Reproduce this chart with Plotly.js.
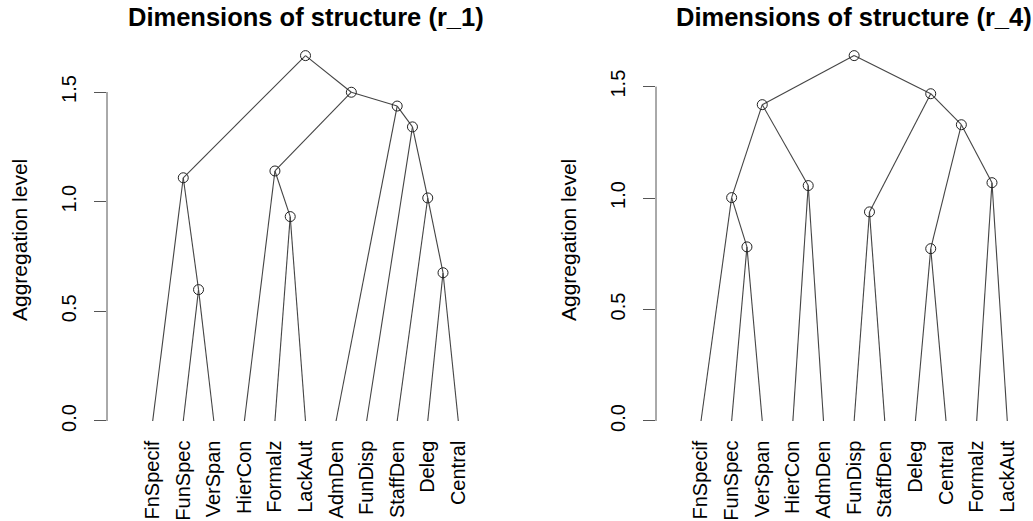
<!DOCTYPE html>
<html>
<head>
<meta charset="utf-8">
<script src="https://cdn.plot.ly/plotly-3.0.1.min.js"></script>
<style>html,body{margin:0;padding:0;background:#fff;}#chart{width:1033px;height:521px;}</style>
</head>
<body>
<div id="chart"></div>
<script>
// ---------------- DATA ----------------
// Left tree: Dimensions of structure (r_1)
const titleR1 = 'Dimensions of structure (r_1)';
const leavesR1 = ['FnSpecif','FunSpec','VerSpan','HierCon','Formalz','LackAut','AdmDen','FunDisp','StaffDen','Deleg','Central'];
// merges (negative = leaf number in display order, positive = earlier merge step)
const mergeAR1 = [-2, -10, -5, -9, -1, -4, -8, -7, 6, 5];
const mergeBR1 = [-3, -11, -6,  2,  1,  3,  4,  7, 8, 9];
const heightsR1 = [0.599, 0.676, 0.932, 1.017, 1.109, 1.140, 1.341, 1.436, 1.499, 1.666];

// Right tree: Dimensions of structure (r_4)
const titleR4 = 'Dimensions of structure (r_4)';
const leavesR4 = ['FnSpecif','FunSpec','VerSpan','HierCon','AdmDen','FunDisp','StaffDen','Deleg','Central','Formalz','LackAut'];
const mergeAR4 = [-8, -2, -6, -1, -4, -10, 1, 4, 3, 8];
const mergeBR4 = [-9, -3, -7,  2, -5, -11, 6, 5, 7, 9];
const heightsR4 = [0.773, 0.781, 0.938, 1.002, 1.056, 1.069, 1.329, 1.419, 1.468, 1.639];

const yTickVals = [0, 0.5, 1.0, 1.5];
const yTickText = ['0.0', '0.5', '1.0', '1.5'];
const yLabel = 'Aggregation level';

// ---------------- BUILD ----------------
function buildTree(mergeA, mergeB, heights) {
  const nodes = [];
  function info(ref) {
    if (ref < 0) return {x: -ref, h: 0, min: -ref, max: -ref};
    return nodes[ref - 1];
  }
  const lx = [], ly = [], nx = [], ny = [];
  for (let i = 0; i < heights.length; i++) {
    const a = info(mergeA[i]), b = info(mergeB[i]);
    const mn = Math.min(a.min, b.min), mx = Math.max(a.max, b.max);
    const node = {x: (mn + mx) / 2, h: heights[i], min: mn, max: mx};
    nodes.push(node);
    [a, b].forEach(c => { lx.push(node.x, c.x, null); ly.push(node.h, c.h, null); });
    nx.push(node.x); ny.push(node.h);
  }
  return {lx, ly, nx, ny};
}

const W = 1033, H = 521;
const FONT = 'Liberation Sans, Arial, Helvetica, sans-serif';
const LINE = '#444';

const panels = [
  {title: titleR1, leaves: leavesR1, mA: mergeAR1, mB: mergeBR1, h: heightsR1, axisPx: 107, leaf1Px: 152.7, rightPx: 502, sp: 30.56, ax: 'x', ay: 'y', labPx: 19},
  {title: titleR4, leaves: leavesR4, mA: mergeAR4, mB: mergeBR4, h: heightsR4, axisPx: 656, leaf1Px: 701, rightPx: 1033, sp: 30.63, ax: 'x2', ay: 'y2', labPx: 568}
];

const yTopPx = 41, yBotPx = 435.6;
const traces = [];
const layout = {
  width: W, height: H,
  margin: {l: 0, r: 0, t: 0, b: 0},
  paper_bgcolor: '#fff', plot_bgcolor: '#fff',
  showlegend: false,
  font: {family: FONT, color: '#000'},
  annotations: [], shapes: []
};

panels.forEach((p, k) => {
  const t = buildTree(p.mA, p.mB, p.h);
  traces.push({x: t.lx, y: t.ly, xaxis: p.ax, yaxis: p.ay, mode: 'lines', type: 'scatter',
    line: {color: LINE, width: 1.1}, hoverinfo: 'skip'});
  traces.push({x: t.nx, y: t.ny, xaxis: p.ax, yaxis: p.ay, mode: 'markers', type: 'scatter',
    marker: {symbol: 'circle-open', size: 10, color: '#222', line: {width: 1, color: '#222'}}, hoverinfo: 'skip'});

  const maxH = Math.max(...p.h);
  const xr = [1 - (p.leaf1Px - p.axisPx) / p.sp, 1 + (p.rightPx - p.leaf1Px) / p.sp];
  const suffix = k === 0 ? '' : '2';
  layout['xaxis' + suffix] = {
    domain: [p.axisPx / W, p.rightPx / W], range: xr, anchor: p.ay,
    showgrid: false, zeroline: false, showline: false, ticks: '',
    tickvals: p.leaves.map((_, i) => i + 1), ticktext: p.leaves,
    tickangle: -90, tickfont: {size: 20, family: FONT, color: '#000'}
  };
  layout['yaxis' + suffix] = {
    domain: [1 - yBotPx / H, 1 - yTopPx / H], range: [-0.04 * maxH, 1.04 * maxH], anchor: p.ax,
    showgrid: false, zeroline: false, showline: false,
    ticks: 'outside', ticklen: 12, tickwidth: 1, tickcolor: '#555',
    ticklabelstandoff: 10,
    tickvals: yTickVals, ticktext: yTickText, tickangle: -90,
    tickfont: {size: 20, family: FONT, color: '#000'}
  };
  layout.shapes.push({type: 'line', xref: p.ax + ' domain', x0: 0, x1: 0, yref: p.ay,
    y0: yTickVals[0], y1: yTickVals[yTickVals.length - 1], line: {color: '#555', width: 1}});
  layout.annotations.push({text: '<b>' + p.title + '</b>', xref: p.ax, x: (1 + p.leaves.length) / 2,
    yref: 'paper', y: 1 - 17 / H, xanchor: 'center', yanchor: 'middle', showarrow: false,
    font: {size: 25.5, family: FONT, color: '#000'}});
  layout.annotations.push({text: yLabel, xref: 'paper', x: p.labPx / W, yref: 'paper', y: 1 - 240 / H,
    xanchor: 'center', yanchor: 'middle', textangle: -90, showarrow: false,
    font: {size: 21, family: FONT, color: '#000'}});
});

Plotly.newPlot('chart', traces, layout, {displayModeBar: false, staticPlot: true});
</script>
</body>
</html>
